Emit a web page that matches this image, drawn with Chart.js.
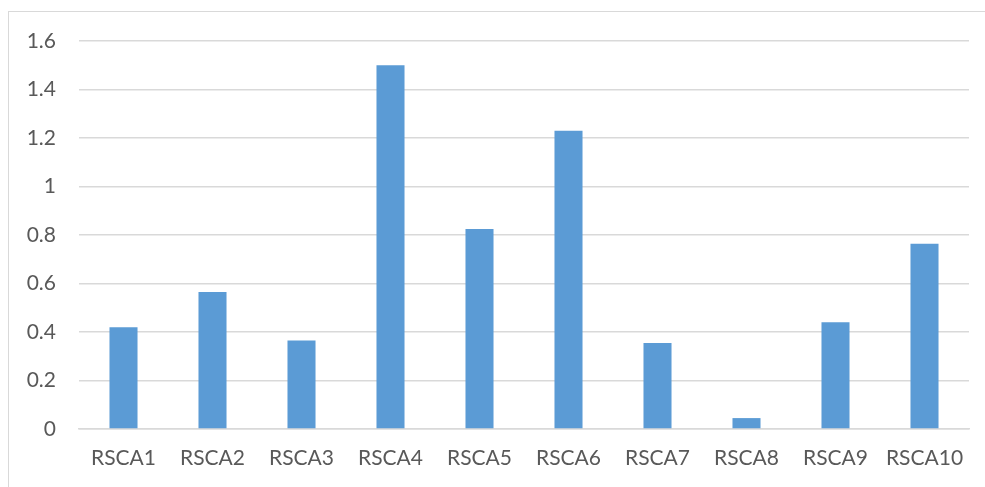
<!DOCTYPE html>
<html>
<head>
<meta charset="utf-8">
<script src="https://cdn.jsdelivr.net/npm/chart.js@4/dist/chart.umd.min.js"></script>
<style>
  html, body { margin: 0; padding: 0; background: #ffffff; overflow: hidden; }
  #wrap { position: relative; width: 985px; height: 487px; }
  #frame { position: absolute; left: 8px; top: 11px; width: 1200px; height: 800px; border: 1px solid #d9d9d9; box-sizing: border-box; }
  canvas { position: absolute; left: 0; top: 0; }
</style>
</head>
<body>
<div id="wrap">
  <div id="frame"></div>
  <canvas id="chart" width="985" height="487"></canvas>
</div>
<script>
// Categories and values
const categories = ['RSCA1', 'RSCA2', 'RSCA3', 'RSCA4', 'RSCA5', 'RSCA6', 'RSCA7', 'RSCA8', 'RSCA9', 'RSCA10'];
const values = [0.42, 0.565, 0.365, 1.50, 0.825, 1.23, 0.355, 0.045, 0.44, 0.764];
const yTicks = [0, 0.2, 0.4, 0.6, 0.8, 1, 1.2, 1.4, 1.6];

const textColor = '#595959';
const gridColor = '#d9d9d9';
const font = { family: 'Lato, "Open Sans", sans-serif', size: 21 };

new Chart(document.getElementById('chart'), {
  type: 'bar',
  data: {
    labels: categories,
    datasets: [{
      data: values,
      backgroundColor: '#5b9bd5',
      borderWidth: 0,
      categoryPercentage: 1,
      barPercentage: 0.315
    }]
  },
  options: {
    responsive: false,
    animation: false,
    layout: { padding: { left: 0, right: 16, top: 41, bottom: 0 } },
    plugins: { legend: { display: false }, tooltip: { enabled: false } },
    scales: {
      x: {
        grid: { display: false, drawTicks: false },
        border: { display: true, color: gridColor, width: 1.5 },
        ticks: { color: textColor, font: font, padding: 17, maxRotation: 0 },
        afterFit: s => { s.height = 58; }
      },
      y: {
        min: 0,
        max: 1.6,
        afterBuildTicks: s => { s.ticks = yTicks.map(v => ({ value: v })); },
        grid: { color: gridColor, lineWidth: 1.5, drawTicks: false },
        border: { display: false },
        ticks: {
          color: textColor,
          font: font,
          padding: 23,
          callback: v => String(Math.round(v * 10) / 10)
        },
        afterFit: s => { s.width = 79; }
      }
    }
  }
});
</script>
</body>
</html>
